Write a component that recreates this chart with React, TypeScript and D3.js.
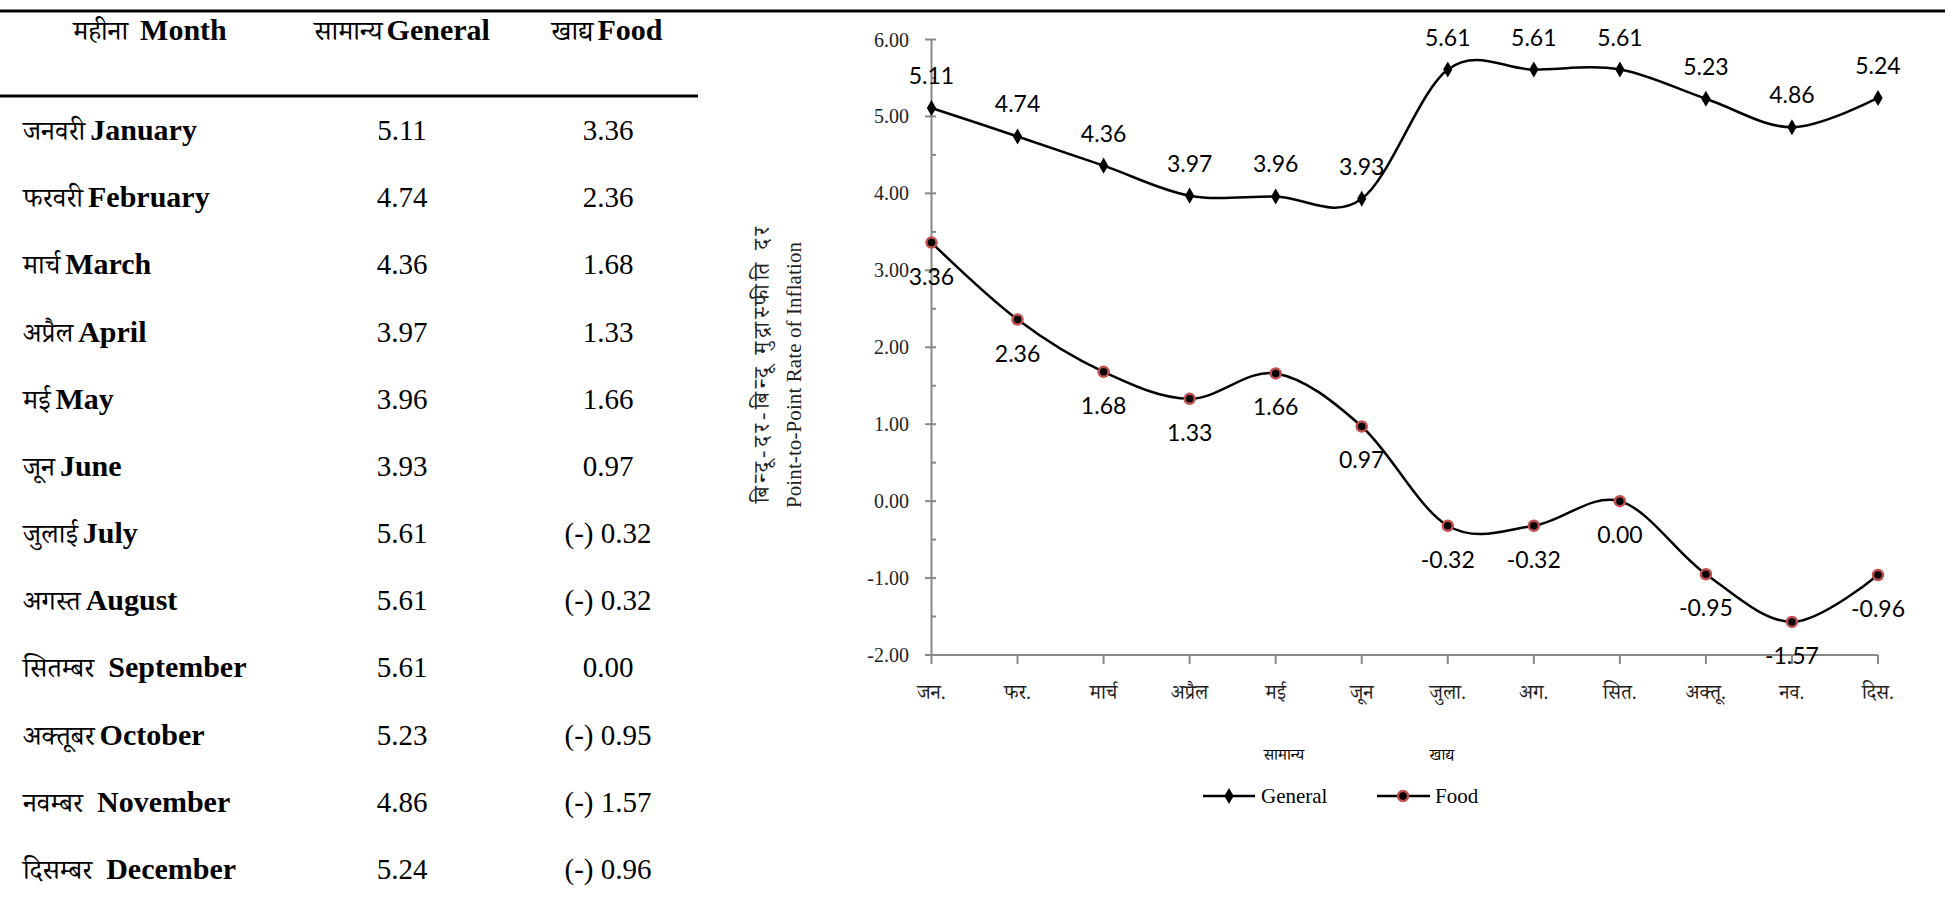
import React from 'react';
import * as d3 from 'd3';

const monthsHi = ['जनवरी', 'फरवरी', 'मार्च', 'अप्रैल', 'मई', 'जून', 'जुलाई', 'अगस्त', 'सितम्बर', 'अक्तूबर', 'नवम्बर', 'दिसम्बर'];
const monthsEn = ['January', 'February', 'March', 'April', 'May', 'June', 'July', 'August', 'September', 'October', 'November', 'December'];
const monthGap = [5, 5, 5, 5, 5, 5, 5, 5, 14, 5, 14, 14];
const monthAbbr = ['जन.', 'फर.', 'मार्च', 'अप्रैल', 'मई', 'जून', 'जुला.', 'अग.', 'सित.', 'अक्तू.', 'नव.', 'दिस.'];
const general = [5.11, 4.74, 4.36, 3.97, 3.96, 3.93, 5.61, 5.61, 5.61, 5.23, 4.86, 5.24];
const food = [3.36, 2.36, 1.68, 1.33, 1.66, 0.97, -0.32, -0.32, 0.0, -0.95, -1.57, -0.96];
const yMajor = [6, 5, 4, 3, 2, 1, 0, -1, -2];
const yMinor = [5.5, 4.5, 3.5, 2.5, 1.5, 0.5, -0.5, -1.5];
const yTitleHi = 'बिन्दू-दर-बिन्दू  मुद्रास्फीति  दर';
const yTitleEn = 'Point-to-Point Rate of Inflation';
const seriesHi = ['सामान्य', 'खाद्य'];
const seriesEn = ['General', 'Food'];

const SERIF = "'Liberation Serif', 'Times New Roman', 'Noto Serif Devanagari', 'Noto Sans Devanagari', serif";
const SERIF_LATIN = "'Liberation Serif', 'Times New Roman', Times, serif";
const LABEL = "Lato, 'Noto Sans', 'Noto Sans Devanagari', sans-serif";
const AXIS_GRAY = '#898989';
const RED = '#C0504D';

const fmtTable = (v: number) => (v < 0 ? `(-) ${Math.abs(v).toFixed(2)}` : v.toFixed(2));

export default function App() {
  const W = 1945;
  const H = 898;
  const x = d3.scalePoint<string>().domain(monthAbbr).range([931.5, 1878]);
  const y = d3.scaleLinear().domain([-2, 6]).range([655, 39.5]);
  const line = d3
    .line<number>()
    .x((_, i) => x(monthAbbr[i]) as number)
    .y((d) => y(d))
    .curve(d3.curveCatmullRom.alpha(0));

  const rowY = d3.scaleLinear().domain([0, 11]).range([140, 879]);
  const diamond = d3.symbol().type(d3.symbolDiamond).size(75)();

  return (
    <svg
      width={W}
      height={H}
      style={{ position: 'absolute', left: 0, top: 0, background: '#fff' }}
      xmlns="http://www.w3.org/2000/svg"
    >
      <rect x={0} y={0} width={W} height={H} fill="#fff" />
      {/* top rule */}
      <line x1={0} x2={W} y1={11} y2={11} stroke="#000" strokeWidth={3} />
      {/* table header */}
      <g fontFamily={SERIF} fontSize={30} fill="#000">
        <text x={150} y={40} textAnchor="middle">
          <tspan fontSize={27}>महीना</tspan>
          <tspan dx={12} fontWeight="bold" fontFamily={SERIF_LATIN}>Month</tspan>
        </text>
        <text x={402} y={40} textAnchor="middle">
          <tspan fontSize={27}>सामान्य</tspan>
          <tspan dx={4} fontWeight="bold" fontFamily={SERIF_LATIN}>General</tspan>
        </text>
        <text x={607} y={40} textAnchor="middle">
          <tspan fontSize={27}>खाद्य</tspan>
          <tspan dx={4} fontWeight="bold" fontFamily={SERIF_LATIN}>Food</tspan>
        </text>
      </g>
      <line x1={0} x2={698} y1={96} y2={96} stroke="#000" strokeWidth={3} />
      {/* table rows */}
      <g fontFamily={SERIF} fontSize={29} fill="#000">
        {monthsEn.map((m, i) => (
          <g key={m}>
            <text x={23} y={rowY(i)}>
              <tspan fontSize={27}>{monthsHi[i]}</tspan>
              <tspan dx={monthGap[i]} fontWeight="bold" fontSize={30} fontFamily={SERIF_LATIN}>
                {m}
              </tspan>
            </text>
            <text x={402} y={rowY(i)} textAnchor="middle" fontFamily={SERIF_LATIN}>
              {general[i].toFixed(2)}
            </text>
            <text x={608} y={rowY(i)} textAnchor="middle" fontFamily={SERIF_LATIN}>
              {fmtTable(food[i])}
            </text>
          </g>
        ))}
      </g>

      {/* chart axes */}
      <g>
        <line x1={931.5} x2={931.5} y1={y(6)} y2={y(-2)} stroke={AXIS_GRAY} strokeWidth={2} />
        <line x1={931.5} x2={1878} y1={y(-2)} y2={y(-2)} stroke={AXIS_GRAY} strokeWidth={2} />
        {yMajor.map((t) => (
          <line key={'M' + t} x1={925} x2={936} y1={y(t)} y2={y(t)} stroke={AXIS_GRAY} strokeWidth={2} />
        ))}
        {yMinor.map((t) => (
          <line key={'m' + t} x1={931.5} x2={936} y1={y(t)} y2={y(t)} stroke={AXIS_GRAY} strokeWidth={2} />
        ))}
        {monthAbbr.map((m) => (
          <line key={'x' + m} x1={x(m)} x2={x(m)} y1={y(-2)} y2={y(-2) + 9} stroke={AXIS_GRAY} strokeWidth={2} />
        ))}
        <g fontFamily={SERIF_LATIN} fontSize={20} fill="#222" textAnchor="end">
          {yMajor.map((t) => (
            <text key={'yl' + t} x={909} y={y(t) + 7}>
              {t.toFixed(2)}
            </text>
          ))}
        </g>
        <g fontFamily={SERIF} fontSize={20} fill="#222" textAnchor="middle">
          {monthAbbr.map((m) => (
            <text key={'xl' + m} x={x(m)} y={699}>
              {m}
            </text>
          ))}
        </g>
        <g fontFamily={SERIF} fill="#222" textAnchor="middle">
          <text
            transform={`translate(769,365) rotate(-90)`}
            fontSize={22}
            textLength={276}
            lengthAdjust="spacing"
          >
            {yTitleHi}
          </text>
          <text
            transform={`translate(801,375) rotate(-90)`}
            fontSize={21}
            fontFamily={SERIF_LATIN}
            textLength={266}
            lengthAdjust="spacing"
          >
            {yTitleEn}
          </text>
        </g>
      </g>

      {/* series lines */}
      <path d={line(general) || ''} fill="none" stroke="#000" strokeWidth={2.5} />
      <path d={line(food) || ''} fill="none" stroke="#000" strokeWidth={2.5} />

      {/* markers */}
      {general.map((v, i) => (
        <path key={'gd' + i} d={diamond || ''} transform={`translate(${x(monthAbbr[i])},${y(v)})`} fill="#000" />
      ))}
      {food.map((v, i) => (
        <circle key={'fc' + i} cx={x(monthAbbr[i])} cy={y(v)} r={5} fill="#000" stroke={RED} strokeWidth={2.5} />
      ))}

      {/* data labels */}
      <g fontFamily={LABEL} fontSize={23} fill="#000" textAnchor="middle">
        {general.map((v, i) => (
          <text key={'gl' + i} x={x(monthAbbr[i])} y={y(v) - 24}>
            {v.toFixed(2)}
          </text>
        ))}
        {food.map((v, i) => (
          <text key={'fl' + i} x={x(monthAbbr[i])} y={y(v) + 42}>
            {v.toFixed(2)}
          </text>
        ))}
      </g>

      {/* legend */}
      <g fontFamily={SERIF} fill="#000">
        <text x={1284} y={760} fontSize={16} textAnchor="middle">
          {seriesHi[0]}
        </text>
        <text x={1442} y={760} fontSize={16} textAnchor="middle">
          {seriesHi[1]}
        </text>
        <line x1={1203} x2={1255} y1={796} y2={796} stroke="#000" strokeWidth={2.5} />
        <path d={diamond || ''} transform="translate(1229,796)" fill="#000" />
        <text x={1261} y={803} fontSize={21} fontFamily={SERIF_LATIN}>
          {seriesEn[0]}
        </text>
        <line x1={1377} x2={1430} y1={796} y2={796} stroke="#000" strokeWidth={2.5} />
        <circle cx={1403} cy={796} r={5} fill="#000" stroke={RED} strokeWidth={2.5} />
        <text x={1435} y={803} fontSize={21} fontFamily={SERIF_LATIN}>
          {seriesEn[1]}
        </text>
      </g>
    </svg>
  );
}
